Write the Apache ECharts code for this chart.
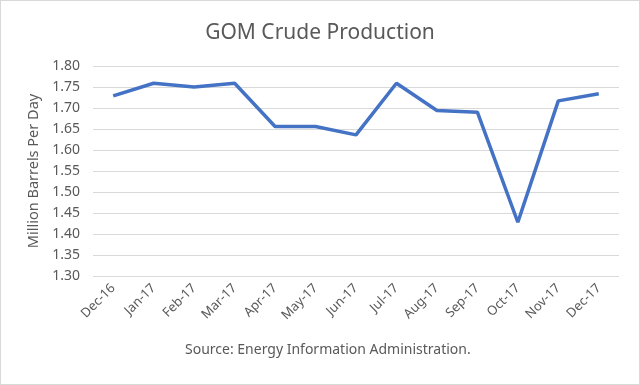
<!DOCTYPE html>
<html><head><meta charset="utf-8">
<script src="https://cdn.jsdelivr.net/npm/echarts@6/dist/echarts.min.js"></script>
<style>html,body{margin:0;padding:0;background:#fff}#c{width:638px;height:383px;border:1px solid #d9d9d9}</style>
</head><body><div id="c"></div>
<script>
const categories = ['Dec-16','Jan-17','Feb-17','Mar-17','Apr-17','May-17','Jun-17','Jul-17','Aug-17','Sep-17','Oct-17','Nov-17','Dec-17'];
const production = [1.729,1.759,1.750,1.759,1.656,1.656,1.636,1.759,1.694,1.690,1.428,1.717,1.734];
const chart = echarts.init(document.getElementById('c'));
const font = 'Noto Sans';
chart.setOption({
  animation:false,
  title:{text:'GOM Crude Production',left:'center',top:17,textStyle:{fontFamily:font,fontSize:21,fontWeight:'normal',color:'#595959'}},
  graphic:[{type:'text',left:184,top:342,style:{text:'Source: Energy Information Administration.',fontFamily:font,fontSize:14,fill:'#595959'}}],
  grid:{left:92,right:20,top:65,bottom:108},
  xAxis:{type:'category',data:categories,boundaryGap:true,
    axisLine:{show:false},axisTick:{show:false},
    axisLabel:{rotate:45,fontFamily:font,fontSize:13,color:'#595959',margin:10}},
  yAxis:{type:'value',min:1.30,max:1.80,interval:0.05,
    name:'Million Barrels Per Day',nameLocation:'middle',nameGap:50,nameTextStyle:{fontFamily:font,fontSize:14.5,color:'#595959'},
    axisLine:{show:false},axisTick:{show:false},
    axisLabel:{formatter:v=>v.toFixed(2),fontFamily:font,fontSize:14,color:'#595959',margin:13},
    splitLine:{lineStyle:{color:'#d9d9d9',width:1}}},
  series:[{type:'line',data:production,symbol:'none',lineStyle:{color:'#4472C4',width:3.5}}]
});
</script></body></html>
